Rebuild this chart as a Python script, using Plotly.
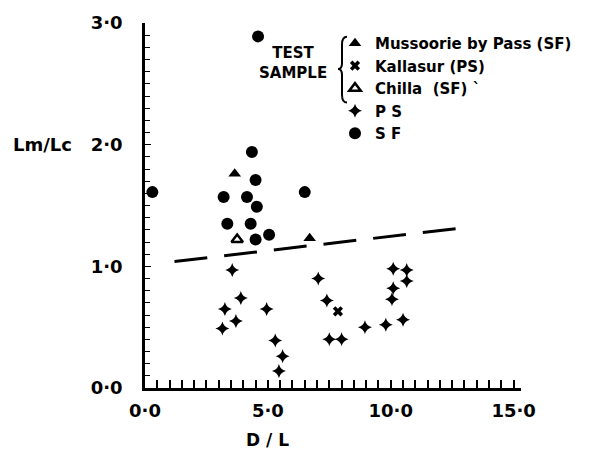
import plotly.graph_objects as go

# ---- data ----
sf_x = [0.3, 4.6, 4.35, 4.5, 3.2, 4.15, 4.55, 3.35, 4.3, 4.5, 5.05, 6.5]
sf_y = [1.61, 2.89, 1.94, 1.71, 1.57, 1.57, 1.49, 1.35, 1.35, 1.22, 1.26, 1.61]

ps_x = [3.55, 3.9, 3.25, 3.7, 3.15, 4.95, 5.3, 5.6, 5.45, 7.05, 7.4, 7.5, 8.0,
        8.95, 9.8, 10.5, 10.1, 10.65, 10.65, 10.1, 10.05]
ps_y = [0.97, 0.74, 0.65, 0.55, 0.49, 0.65, 0.39, 0.26, 0.14, 0.90, 0.72, 0.40, 0.40,
        0.50, 0.52, 0.56, 0.98, 0.97, 0.88, 0.82, 0.73]

mussoorie_x = [3.65, 6.7]
mussoorie_y = [1.76, 1.23]
kallasur_x = [7.85]
kallasur_y = [0.63]
chilla_x = [3.75]
chilla_y = [1.22]

trend_x = [1.2, 12.7]
trend_y = [1.04, 1.31]

x_tickvals = [0, 5, 10, 15]
x_ticktext = ["0·0", "5·0", "10·0", "15·0"]
y_tickvals = [0, 1, 2, 3]
y_ticktext = ["0·0", "1·0", "Lm/Lc\u00a0\u00a0\u00a02·0", "3·0"]

FONT = "DejaVu Sans"
W, H = 608, 457
ML, MR, MT, MB = 145, 87, 16, 69
XR = [0, 15.3]
YR = [0, 3.0]
PW = W - ML - MR
PH = H - MT - MB


def px2x(px):
    return XR[0] + (px - ML) / PW * (XR[1] - XR[0])


def px2y(py):
    return YR[0] + (H - MB - py) / PH * (YR[1] - YR[0])


def px2py(py):
    return (H - MB - py) / PH


fig = go.Figure()

fig.add_trace(go.Scatter(x=trend_x, y=trend_y, mode="lines",
                         line=dict(color="black", width=3, dash="33px,17px"),
                         showlegend=False, hoverinfo="skip"))
fig.add_trace(go.Scatter(x=mussoorie_x, y=mussoorie_y, mode="markers",
                         name="Mussoorie by Pass (SF)",
                         marker=dict(symbol="triangle-up", size=11, color="black")))
fig.add_trace(go.Scatter(x=kallasur_x, y=kallasur_y, mode="markers",
                         name="Kallasur (PS)",
                         marker=dict(symbol="x", size=9, color="black", line=dict(width=0))))
fig.add_trace(go.Scatter(x=chilla_x, y=chilla_y, mode="markers",
                         name="Chilla  (SF) `",
                         marker=dict(symbol="triangle-up-open", size=10, color="black",
                                     line=dict(width=2.5, color="black"))))
fig.add_trace(go.Scatter(x=ps_x, y=ps_y, mode="markers", name="P S",
                         marker=dict(symbol="star-diamond", size=10, color="black",
                                     line=dict(width=0))))
fig.add_trace(go.Scatter(x=sf_x, y=sf_y, mode="markers", name="S F",
                         marker=dict(symbol="circle", size=12, color="black",
                                     line=dict(width=0))))

# legend brace
bx0, bx1 = px2x(338), px2x(347)
bym = px2y(63)
by0, by1 = px2y(30), px2y(97)
xm = px2x(342)
path = (f"M {bx1} {by0} Q {xm} {by0} {xm} {px2y(38)} "
        f"L {xm} {px2y(57)} Q {xm} {bym} {bx0} {bym} "
        f"Q {xm} {bym} {xm} {px2y(69)} L {xm} {px2y(89)} "
        f"Q {xm} {by1} {bx1} {by1}")
fig.add_shape(type="path", path=path, line=dict(color="black", width=2),
              xref="x", yref="y")

fig.add_annotation(x=px2x(293), y=px2y(57), xref="x", yref="y",
                   text="<b>TEST<br>SAMPLE</b>", showarrow=False, align="center",
                   font=dict(family=FONT, size=15, color="black"))
fig.add_annotation(x=5.0, y=px2py(441), xref="x", yref="paper", yanchor="middle",
                   text="<b>D / L</b>", showarrow=False,
                   font=dict(family=FONT, size=17, color="black"))

fig.update_layout(
    width=W, height=H,
    margin=dict(l=ML, r=MR, t=MT, b=MB, pad=0),
    paper_bgcolor="white", plot_bgcolor="white",
    font=dict(family=FONT, size=17, color="black"),
    legend=dict(x=(335 - ML) / PW, y=(H - MB - 20) / PH, xanchor="left", yanchor="top",
                bgcolor="rgba(0,0,0,0)", font=dict(family=FONT, size=15, color="black",
                                                   weight="bold"),
                tracegroupgap=0),
    xaxis=dict(range=XR, showgrid=False, zeroline=False, showline=True,
               linecolor="black", linewidth=2.5,
               tickvals=x_tickvals, ticktext=x_ticktext,
               ticks="inside", ticklen=8, tickwidth=1.5, tickcolor="black",
               minor=dict(dtick=0.5, ticks="inside", ticklen=8, tickwidth=1.5,
                          tickcolor="black"),
               tickfont=dict(family=FONT, size=18, color="black", weight="bold"),
               ticklabelstandoff=5),
    yaxis=dict(range=YR, showgrid=False, zeroline=False, showline=True,
               linecolor="black", linewidth=2.5,
               tickvals=y_tickvals, ticktext=y_ticktext,
               ticks="inside", ticklen=6, tickwidth=1.2, tickcolor="black",
               minor=dict(dtick=0.1, ticks="inside", ticklen=5, tickwidth=1.2,
                          tickcolor="black"),
               tickfont=dict(family=FONT, size=18, color="black", weight="bold"),
               ticklabelstandoff=16),
)

fig.write_html("out.html")
